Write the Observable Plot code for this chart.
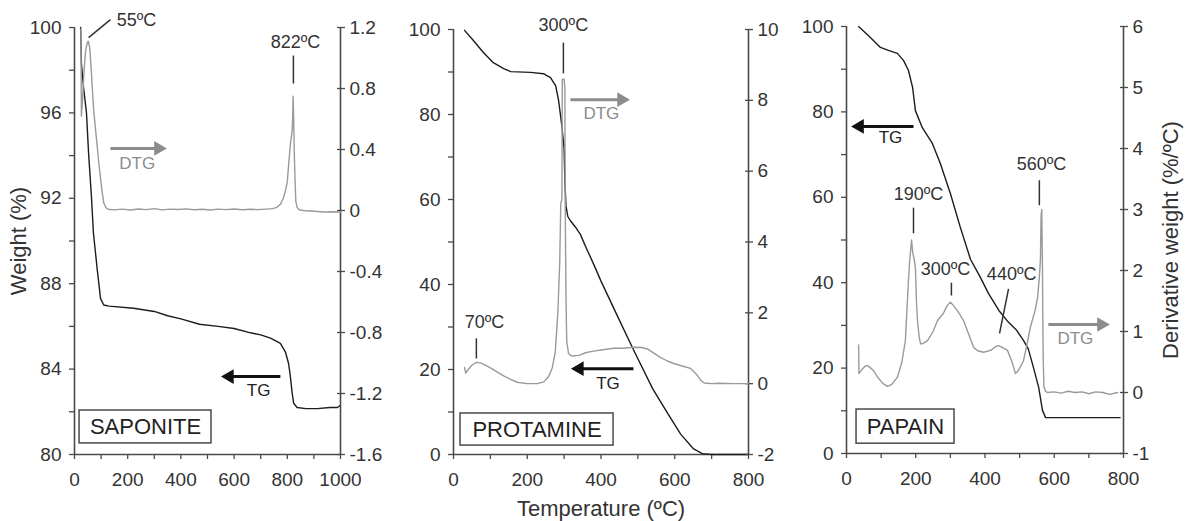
<!DOCTYPE html>
<html>
<head>
<meta charset="utf-8">
<script src="https://cdn.jsdelivr.net/npm/d3@7"></script>
<script src="https://cdn.jsdelivr.net/npm/@observablehq/plot@0.6"></script>
<style>
  body { margin: 0; background: #fff; }
  #chart { position: relative; width: 1188px; height: 521px; overflow: hidden; background: #fff; }
  #chart svg { position: absolute; }
</style>
</head>
<body>
<div id="chart"></div>
<script>
// ---------------- DATA (temperature ºC, value) ----------------
const saponiteTG = [[23,100],[26,98.3],[34,97.2],[45,96],[53,94.1],[64,92],[71,90.4],[86,88.6],[98,87.3],[110,87.0],[130,86.95],[222,86.85],[300,86.7],[350,86.5],[400,86.35],[470,86.1],[540,86.0],[600,85.9],[662,85.7],[700,85.6],[737,85.45],[774,85.2],[793,84.8],[805,84.25],[812,83.6],[818,82.9],[824,82.4],[837,82.2],[870,82.15],[913,82.15],[960,82.2],[988,82.2],[1000,82.3]];
const saponiteDTG = [[24,1.19],[26,0.62],[30,0.72],[36,0.92],[42,1.05],[48,1.1],[52,1.11],[57,1.07],[62,0.95],[67,0.8],[72,0.66],[78,0.55],[86,0.41],[92,0.3],[98,0.21],[104,0.12],[110,0.05],[118,0.02],[126,0.008],[150,0.004],[180,0.009],[210,0.003],[240,0.01],[270,0.006],[300,0.012],[330,0.004],[360,0.009],[390,0.007],[420,0.011],[450,0.005],[480,0.008],[510,0.003],[540,0.009],[570,0.006],[600,0.01],[630,0.005],[660,0.008],[690,0.006],[720,0.009],[745,0.012],[760,0.02],[774,0.04],[785,0.08],[793,0.13],[800,0.19],[805,0.3],[812,0.44],[818,0.52],[820,0.6],[822,0.75],[824,0.6],[826,0.4],[829,0.2],[832,0.06],[837,0.02],[845,0.005],[860,0.0],[900,-0.005],[940,-0.01],[970,-0.008],[1000,-0.01]];

const protamineTG = [[30,99.8],[54,97.4],[81,94.6],[108,92.2],[136,90.8],[155,90.1],[209,89.9],[244,89.6],[263,88.7],[277,86.8],[285,83.3],[293,77.9],[300,72],[302,64.5],[305,58.5],[310,56],[317,55],[330,53.6],[344,51.8],[360,48.6],[380,44.8],[400,40.8],[445,32.5],[490,24.3],[540,15.5],[580,9.8],[616,4.8],[650,1.4],[675,0.2],[700,0],[800,0]];
const protamineDTG = [[30,0.46],[33,0.3],[40,0.4],[50,0.52],[62,0.6],[75,0.58],[90,0.5],[105,0.42],[120,0.32],[136,0.22],[155,0.12],[173,0.04],[200,0.0],[227,0.0],[245,0.05],[258,0.2],[268,0.45],[276,0.9],[283,2.0],[288,3.4],[291,5.1],[294,5.2],[295,8.6],[300,8.6],[302,8.35],[303,5.0],[305,2.5],[307,1.2],[312,0.85],[320,0.78],[340,0.8],[360,0.88],[380,0.92],[400,0.95],[434,1.0],[460,1.0],[488,1.03],[510,1.02],[526,0.98],[545,0.85],[561,0.74],[580,0.64],[597,0.57],[620,0.5],[643,0.43],[660,0.25],[672,0.08],[680,0.02],[700,0.0],[720,0.01],[760,0.0],[800,0.0]];

const papainTG = [[35,100],[69,97.4],[98,95.1],[121,94.4],[147,93.7],[165,92],[179,89.7],[191,85.7],[199,80.3],[219,76.3],[248,72.6],[271,67.9],[300,60.9],[329,52.9],[358,45.5],[387,41.2],[410,37.5],[440,33.5],[465,31.0],[490,29.0],[511,26.5],[525,24.5],[540,20.1],[555,15.5],[566,10.1],[575,8.4],[790,8.4]];
const papainDTG = [[35,0.78],[36,0.31],[45,0.38],[55,0.44],[61,0.44],[70,0.4],[78,0.36],[90,0.25],[105,0.15],[118,0.1],[130,0.13],[147,0.25],[160,0.5],[170,0.85],[175,1.4],[179,1.84],[183,2.2],[188,2.5],[191,2.3],[195,2.2],[199,2.05],[202,1.5],[205,1.18],[210,0.9],[214,0.8],[220,0.8],[234,0.85],[250,1.0],[263,1.18],[280,1.3],[290,1.42],[300,1.48],[310,1.42],[325,1.3],[338,1.18],[350,1.0],[367,0.74],[380,0.68],[396,0.66],[416,0.69],[430,0.75],[439,0.77],[450,0.74],[465,0.69],[478,0.5],[488,0.31],[495,0.35],[505,0.45],[511,0.52],[520,0.75],[531,1.07],[545,1.35],[552,1.56],[557,1.9],[560,2.16],[562,2.9],[564,3.0],[566,2.0],[567,1.2],[568,0.6],[570,0.1],[575,0.02],[580,0.0],[600,0.01],[620,-0.01],[640,0.02],[660,0.0],[680,0.01],[700,-0.02],[720,0.01],[740,0.0],[760,-0.03],[783,0.0]];

// ---------------- TICKS ----------------
const saponiteXTicks = [0,100,200,300,400,500,600,700,800,900,1000];
const saponiteXLabels = [0,200,400,600,800,1000];
const shortXTicks = [0,100,200,300,400,500,600,700,800];
const shortXLabels = [0,200,400,600,800];
const saponiteWTicks = [80,82,84,86,88,90,92,94,96,98,100];
const saponiteWLabels = [80,84,88,92,96,100];
const percentWTicks = [0,10,20,30,40,50,60,70,80,90,100];
const percentWLabels = [0,20,40,60,80,100];
const saponiteDTicks = [1.2,0.8,0.4,0,-0.4,-0.8,-1.2,-1.6];
const protamineDTicks = [10,8,6,4,2,0,-2];
const papainDTicks = [6,5,4,3,2,1,0,-1];

// ---------------- ANNOTATIONS (data units) ----------------
const saponiteNotes = [{label:"55ºC", t:233, v:1.25},{label:"822ºC", t:831, v:1.105}];
const saponiteLeaders = [{t1:53, v1:1.134, t2:135, v2:1.252},{t1:823, v1:1.016, t2:823, v2:0.833}];
const saponiteDtgArrow = [{t1:135, v1:0.407, t2:323, v2:0.407, tx:236, vx:0.311}];
const saponiteTgArrow = [{t1:774, v1:83.65, t2:575, v2:83.65, tx:692, vx:83.0}];
const saponiteBox = [{t1:19, t2:515, v1:80.52, v2:82.06, label:"SAPONITE"}];

const protamineNotes = [{label:"300ºC", t:298, v:10.11},{label:"70ºC", t:84, v:1.74}];
const protamineLeaders = [{t1:298, v1:9.63, t2:298, v2:8.76},{t1:62, v1:1.28, t2:62, v2:0.71}];
const protamineDtgArrow = [{t1:317, v1:8.02, t2:461, v2:8.02, tx:401, vx:7.64}];
const protamineTgArrow = [{t1:488, v1:20.2, t2:336, v2:20.2, tx:419, vx:16.8}];
const protamineBox = [{t1:19, t2:434, v1:2.1, v2:9.65, label:"PROTAMINE"}];

const papainNotes = [{label:"190ºC", t:208, v:3.25},{label:"560ºC", t:563, v:3.75},{label:"300ºC", t:286, v:2.02},{label:"440ºC", t:477, v:1.94}];
const papainLeaders = [{t1:193.5, v1:3.03, t2:193.5, v2:2.61},{t1:557, v1:3.48, t2:557, v2:3.07},{t1:303, v1:1.80, t2:303, v2:1.59},{t1:468, v1:1.70, t2:442, v2:0.97}];
const papainDtgArrow = [{t1:583, v1:1.115, t2:742, v2:1.115, tx:661, vx:0.885}];
const papainTgArrow = [{t1:193.5, v1:76.6, t2:32, v2:76.6, tx:127, vx:74.0}];
const papainBox = [{t1:29, t2:312, v1:2.3, v2:10.3, label:"PAPAIN"}];

// ---------------- RENDER ----------------
const FONT = '"Liberation Sans", Arial, Helvetica, sans-serif';
const AX = "#4a4a4a";
const TGC = "#1c1c1c";
const DTGC = "#9a9a9a";
const TICKFS = 19;
const M = {left: 60, right: 60, top: 25, bottom: 65};
const pts = arr => arr.map(([t, v]) => ({t, v}));

const panels = [
  {frame:{L:74,R:340,T:27,B:454}, xDomain:[0,1000], wDomain:[80,100], dDomain:[-1.6,1.2],
   xTicks:saponiteXTicks, xLabels:saponiteXLabels, wTicks:saponiteWTicks, wLabels:saponiteWLabels, dTicks:saponiteDTicks,
   tg:saponiteTG, dtg:saponiteDTG, notes:saponiteNotes, leaders:saponiteLeaders, dtgArrow:saponiteDtgArrow, tgArrow:saponiteTgArrow, box:saponiteBox,
   leftTitle:"Weight (%)"},
  {frame:{L:453,R:748,T:29,B:454}, xDomain:[0,800], wDomain:[0,100], dDomain:[-2,10],
   xTicks:shortXTicks, xLabels:shortXLabels, wTicks:percentWTicks, wLabels:percentWLabels, dTicks:protamineDTicks,
   tg:protamineTG, dtg:protamineDTG, notes:protamineNotes, leaders:protamineLeaders, dtgArrow:protamineDtgArrow, tgArrow:protamineTgArrow, box:protamineBox,
   bottomTitle:"Temperature (ºC)"},
  {frame:{L:846,R:1123,T:26,B:453}, xDomain:[0,800], wDomain:[0,100], dDomain:[-1,6],
   xTicks:shortXTicks, xLabels:shortXLabels, wTicks:percentWTicks, wLabels:percentWLabels, dTicks:papainDTicks,
   tg:papainTG, dtg:papainDTG, notes:papainNotes, leaders:papainLeaders, dtgArrow:papainDtgArrow, tgArrow:papainTgArrow, box:papainBox,
   rightTitle:"Derivative weight (%/ºC)"}
];

// arrow = shaft (link) + filled triangular head (dot symbol)
function arrowMarks(data, color, pointRight) {
  return [
    Plot.link(data, {x1: "t1", y1: "v1", x2: "t2", y2: "v2", stroke: color, strokeWidth: 3}),
    Plot.dot(data, {x: "t2", y: "v2", symbol: "triangle2", r: 7, fill: color, stroke: "none",
      rotate: pointRight ? 90 : -90, dx: pointRight ? -2 : 2})
  ];
}

const chart = document.getElementById("chart");

for (const p of panels) {
  const W = p.frame.R - p.frame.L + M.left + M.right;
  const H = p.frame.B - p.frame.T + M.top + M.bottom;
  const base = {
    width: W, height: H,
    marginLeft: M.left, marginRight: M.right, marginTop: M.top, marginBottom: M.bottom,
    style: {background: "none", overflow: "visible", fontFamily: FONT, fontSize: TICKFS + "px", color: "#333"}
  };

  const tgMarks = [
    Plot.axisX(p.xTicks, {anchor: "bottom", tickSize: 5, tickPadding: 13, label: null, fontSize: TICKFS,
      stroke: AX, strokeWidth: 1.3, fill: "#333",
      tickFormat: d => p.xLabels.includes(d) ? String(d) : ""}),
    Plot.axisY(p.wTicks, {anchor: "left", tickSize: 5, tickPadding: 8, label: null, fontSize: TICKFS,
      stroke: AX, strokeWidth: 1.3, fill: "#333",
      tickFormat: d => p.wLabels.includes(d) ? String(d) : ""}),
    Plot.ruleX([p.xDomain[0]], {stroke: AX, strokeWidth: 1.6}),
    Plot.ruleY([p.wDomain[0]], {stroke: AX, strokeWidth: 1.6}),
    Plot.line(pts(p.tg), {x: "t", y: "v", stroke: TGC, strokeWidth: 1.4}),
    ...arrowMarks(p.tgArrow, "#111", false),
    Plot.text(p.tgArrow, {x: "tx", y: "vx", text: () => "TG", fontSize: 17, fill: "#222", textAnchor: "middle", lineAnchor: "middle"}),
    Plot.rect(p.box, {x1: "t1", x2: "t2", y1: "v1", y2: "v2", fill: "none", stroke: AX, strokeWidth: 1.5}),
    Plot.text(p.box, {x: d => (d.t1 + d.t2) / 2, y: d => (d.v1 + d.v2) / 2, text: "label", fontSize: 22, fill: "#222", textAnchor: "middle", lineAnchor: "middle"})
  ];
  if (p.leftTitle) tgMarks.push(Plot.text([p.leftTitle], {frameAnchor: "left", rotate: -90, dx: -56, fontSize: 22, fill: "#333", textAnchor: "middle", lineAnchor: "middle", text: d => d}));
  if (p.bottomTitle) tgMarks.push(Plot.text([p.bottomTitle], {frameAnchor: "bottom", dy: 54, fontSize: 22, fill: "#333", textAnchor: "middle", lineAnchor: "middle", text: d => d}));

  const tgPlot = Plot.plot({...base, x: {domain: p.xDomain, label: null}, y: {domain: p.wDomain, label: null}, marks: tgMarks});

  const dMarks = [
    Plot.ruleX([p.xDomain[1]], {stroke: AX, strokeWidth: 1.6}),
    Plot.axisY(p.dTicks, {anchor: "right", tickSize: 8, dx: -4, tickPadding: 5, label: null, fontSize: TICKFS,
      stroke: AX, strokeWidth: 1.3, fill: "#333", tickFormat: d => String(d)}),
    Plot.line(pts(p.dtg), {x: "t", y: "v", stroke: DTGC, strokeWidth: 1.4}),
    Plot.link(p.leaders, {x1: "t1", y1: "v1", x2: "t2", y2: "v2", stroke: "#333", strokeWidth: 1.5}),
    Plot.text(p.notes, {x: "t", y: "v", text: "label", textAnchor: "middle", fontSize: 18, fill: "#333", lineAnchor: "middle"}),
    ...arrowMarks(p.dtgArrow, "#8c8c8c", true),
    Plot.text(p.dtgArrow, {x: "tx", y: "vx", text: () => "DTG", fontSize: 17, fill: "#8c8c8c", textAnchor: "middle", lineAnchor: "middle"})
  ];
  if (p.rightTitle) dMarks.push(Plot.text([p.rightTitle], {frameAnchor: "right", rotate: -90, dx: 47, fontSize: 22, fill: "#333", textAnchor: "middle", lineAnchor: "middle", text: d => d}));

  const dPlot = Plot.plot({...base, x: {domain: p.xDomain, axis: null}, y: {domain: p.dDomain, label: null}, marks: dMarks});

  for (const svg of [tgPlot, dPlot]) {
    svg.style.position = "absolute";
    svg.style.left = (p.frame.L - M.left) + "px";
    svg.style.top = (p.frame.T - M.top) + "px";
    svg.style.maxWidth = "none";
    chart.appendChild(svg);
  }
}
</script>
</body>
</html>
